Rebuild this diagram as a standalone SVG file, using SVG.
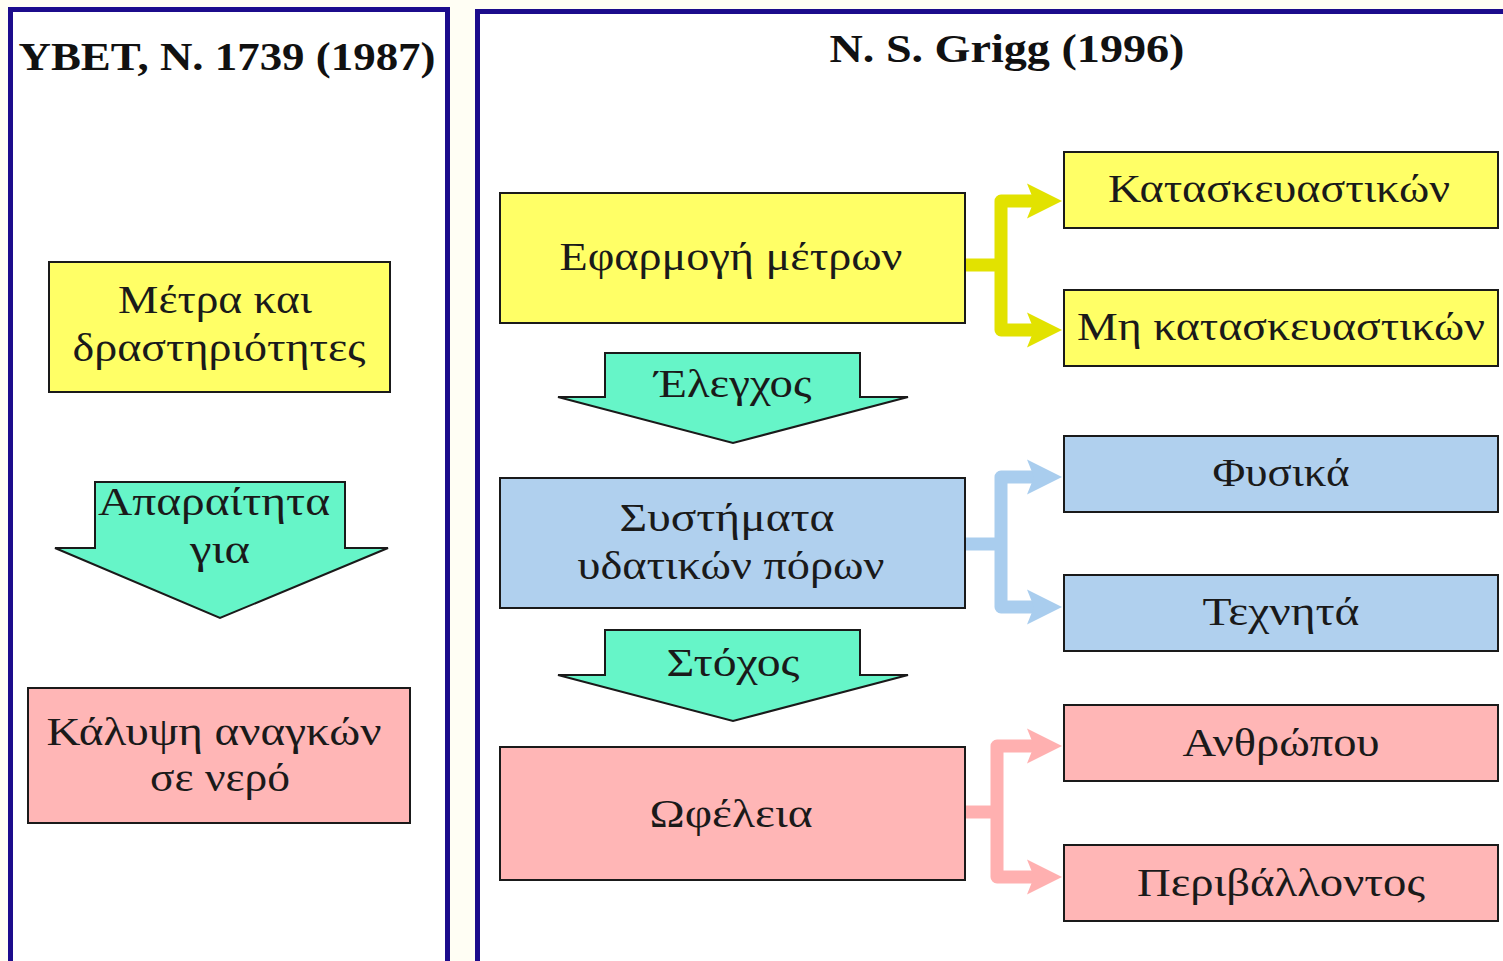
<svg xmlns="http://www.w3.org/2000/svg" width="1503" height="961" viewBox="0 0 1503 961">
<defs>
<style>
.panel{fill:#ffffff;stroke:#1c0c8c;stroke-width:5}
.box{stroke:#1a1a1a;stroke-width:2}
.yel{fill:#ffff66}
.blu{fill:#b0d0ee}
.pnk{fill:#ffb6b6}
.grn{fill:#66f5c8;stroke:#1a1a1a;stroke-width:2}
.t{font-family:"Liberation Serif","DejaVu Serif",serif;font-size:40px;fill:#1a1a1a;text-anchor:middle}
.h{font-family:"Liberation Serif","DejaVu Serif",serif;font-size:40px;font-weight:bold;fill:#111;text-anchor:middle}
.c{fill:none;stroke-width:13;stroke-linejoin:round}
</style>
<marker id="mY" viewBox="0 0 10 10" refX="2" refY="5" markerWidth="2.7" markerHeight="2.8" markerUnits="strokeWidth" orient="auto"><path d="M0,0 L10,5 L0,10 L2,5 z" fill="#e2e200"/></marker>
<marker id="mB" viewBox="0 0 10 10" refX="2" refY="5" markerWidth="2.7" markerHeight="2.8" markerUnits="strokeWidth" orient="auto"><path d="M0,0 L10,5 L0,10 L2,5 z" fill="#a9cdee"/></marker>
<marker id="mP" viewBox="0 0 10 10" refX="2" refY="5" markerWidth="2.7" markerHeight="2.8" markerUnits="strokeWidth" orient="auto"><path d="M0,0 L10,5 L0,10 L2,5 z" fill="#ffb0b0"/></marker>
</defs>
<rect x="0" y="0" width="1503" height="961" fill="#fffef4"/>
<rect class="panel" x="10.5" y="9.5" width="437" height="970"/>
<rect class="panel" x="477.5" y="11.5" width="1050" height="970"/>
<text class="h" x="227" y="70" textLength="417" lengthAdjust="spacingAndGlyphs">ΥBET, N. 1739 (1987)</text>
<text class="h" x="1007" y="62" textLength="355" lengthAdjust="spacingAndGlyphs">N. S. Grigg (1996)</text>

<g id="connectors">
<path class="c" stroke="#e2e200" d="M965,265 H1001"/>
<path class="c" stroke="#e2e200" marker-end="url(#mY)" d="M1001,265 V201 H1034"/>
<path class="c" stroke="#e2e200" marker-end="url(#mY)" d="M1001,265 V330 H1034"/>
<path class="c" stroke="#a9cdee" d="M965,544 H1001"/>
<path class="c" stroke="#a9cdee" marker-end="url(#mB)" d="M1001,544 V477 H1034"/>
<path class="c" stroke="#a9cdee" marker-end="url(#mB)" d="M1001,544 V607 H1034"/>
<path class="c" stroke="#ffb0b0" d="M965,812 H997"/>
<path class="c" stroke="#ffb0b0" marker-end="url(#mP)" d="M997,812 V746 H1034"/>
<path class="c" stroke="#ffb0b0" marker-end="url(#mP)" d="M997,812 V877 H1034"/>
</g>

<g id="n-metra">
<rect class="box yel" x="49" y="262" width="341" height="130"/>
<text class="t" x="215" y="313" textLength="194" lengthAdjust="spacingAndGlyphs">Μέτρα και</text>
<text class="t" x="219" y="361" textLength="293" lengthAdjust="spacingAndGlyphs">δραστηριότητες</text>
</g>
<g id="a-aparaitita">
<polygon class="grn" points="95,482 345,482 345,548 388,548 220,618 55,548 95,548"/>
<text class="t" x="214" y="515" textLength="232" lengthAdjust="spacingAndGlyphs">Απαραίτητα</text>
<text class="t" x="220" y="563" textLength="60" lengthAdjust="spacingAndGlyphs">για</text>
</g>
<g id="n-kalypsi">
<rect class="box pnk" x="28" y="688" width="382" height="135"/>
<text class="t" x="214" y="745" textLength="335" lengthAdjust="spacingAndGlyphs">Κάλυψη αναγκών</text>
<text class="t" x="220" y="791" textLength="140" lengthAdjust="spacingAndGlyphs">σε νερό</text>
</g>

<g id="n-efarmogi">
<rect class="box yel" x="500" y="193" width="465" height="130"/>
<text class="t" x="731" y="270" textLength="343" lengthAdjust="spacingAndGlyphs">Εφαρμογή μέτρων</text>
</g>
<g id="n-kataskeuastikon">
<rect class="box yel" x="1064" y="152" width="434" height="76"/>
<text class="t" x="1279" y="202" textLength="342" lengthAdjust="spacingAndGlyphs">Κατασκευαστικών</text>
</g>
<g id="n-mi-kataskeuastikon">
<rect class="box yel" x="1064" y="290" width="434" height="76"/>
<text class="t" x="1281" y="340" textLength="408" lengthAdjust="spacingAndGlyphs">Μη κατασκευαστικών</text>
</g>
<g id="a-elegxos">
<polygon class="grn" points="605,353 860,353 860,397 908,397 733,443 558,397 605,397"/>
<text class="t" x="733" y="397" textLength="157" lengthAdjust="spacingAndGlyphs">Έλεγχος</text>
</g>
<g id="n-systimata">
<rect class="box blu" x="500" y="478" width="465" height="130"/>
<text class="t" x="727" y="531" textLength="215" lengthAdjust="spacingAndGlyphs">Συστήματα</text>
<text class="t" x="731" y="579" textLength="307" lengthAdjust="spacingAndGlyphs">υδατικών πόρων</text>
</g>
<g id="n-fysika">
<rect class="box blu" x="1064" y="436" width="434" height="76"/>
<text class="t" x="1281" y="486" textLength="137" lengthAdjust="spacingAndGlyphs">Φυσικά</text>
</g>
<g id="n-texnita">
<rect class="box blu" x="1064" y="575" width="434" height="76"/>
<text class="t" x="1281" y="625" textLength="157" lengthAdjust="spacingAndGlyphs">Τεχνητά</text>
</g>
<g id="a-stoxos">
<polygon class="grn" points="605,630 860,630 860,675 908,675 733,721 558,675 605,675"/>
<text class="t" x="733" y="676" textLength="133" lengthAdjust="spacingAndGlyphs">Στόχος</text>
</g>
<g id="n-ofeleia">
<rect class="box pnk" x="500" y="747" width="465" height="133"/>
<text class="t" x="731" y="827" textLength="163" lengthAdjust="spacingAndGlyphs">Ωφέλεια</text>
</g>
<g id="n-anthropou">
<rect class="box pnk" x="1064" y="705" width="434" height="76"/>
<text class="t" x="1281" y="756" textLength="197" lengthAdjust="spacingAndGlyphs">Ανθρώπου</text>
</g>
<g id="n-perivallontos">
<rect class="box pnk" x="1064" y="845" width="434" height="76"/>
<text class="t" x="1281" y="896" textLength="288" lengthAdjust="spacingAndGlyphs">Περιβάλλοντος</text>
</g>
</svg>
